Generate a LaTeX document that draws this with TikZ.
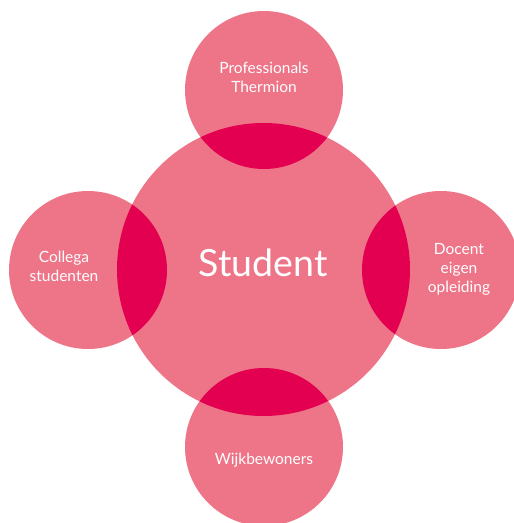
\documentclass[tikz,border=0pt]{standalone}
\usepackage{fontspec}
\setmainfont{Lato}
\definecolor{petal}{RGB}{238,117,136}
\definecolor{overlap}{RGB}{227,0,81}
\begin{document}
\begin{tikzpicture}[x=1pt,y=-1pt,
  disc/.style={fill=petal,draw=none},
  label/.style={text=white,align=center,font=\fontsize{15.5}{19}\selectfont,inner sep=0pt},
  bigLabel/.style={text=white,font=\fontsize{37.5}{42}\selectfont,inner sep=0pt}]
\clip (0,0) rectangle (514,523);
\useasboundingbox (0,0) rectangle (514,523);
% centres of the five circles
\coordinate (C) at (263.5,269.5);
\coordinate (T) at (264,90);
\coordinate (L) at (88,270);
\coordinate (R) at (441,270);
\coordinate (B) at (264,447);
% light discs
\fill[disc] (C) circle (146.5);
\foreach \p in {T,L,R,B} \fill[disc] (\p) circle (79);
% darker lens where each outer disc meets the centre disc
\foreach \p in {T,L,R,B}{
  \begin{scope}
    \clip (\p) circle (79);
    \fill[overlap] (C) circle (146.5);
  \end{scope}
}
% labels
\node[bigLabel] (student) at (263,263) {Student};
\node[label] (prof) at (264,77) {Professionals\\Thermion};
\node[label] (coll) at (64,266) {Collega\\studenten};
\node[label] (doc) at (459,269) {Docent\\eigen\\opleiding};
\node[label] (wijk) at (264,460) {Wijkbewoners};
\end{tikzpicture}
\end{document}
